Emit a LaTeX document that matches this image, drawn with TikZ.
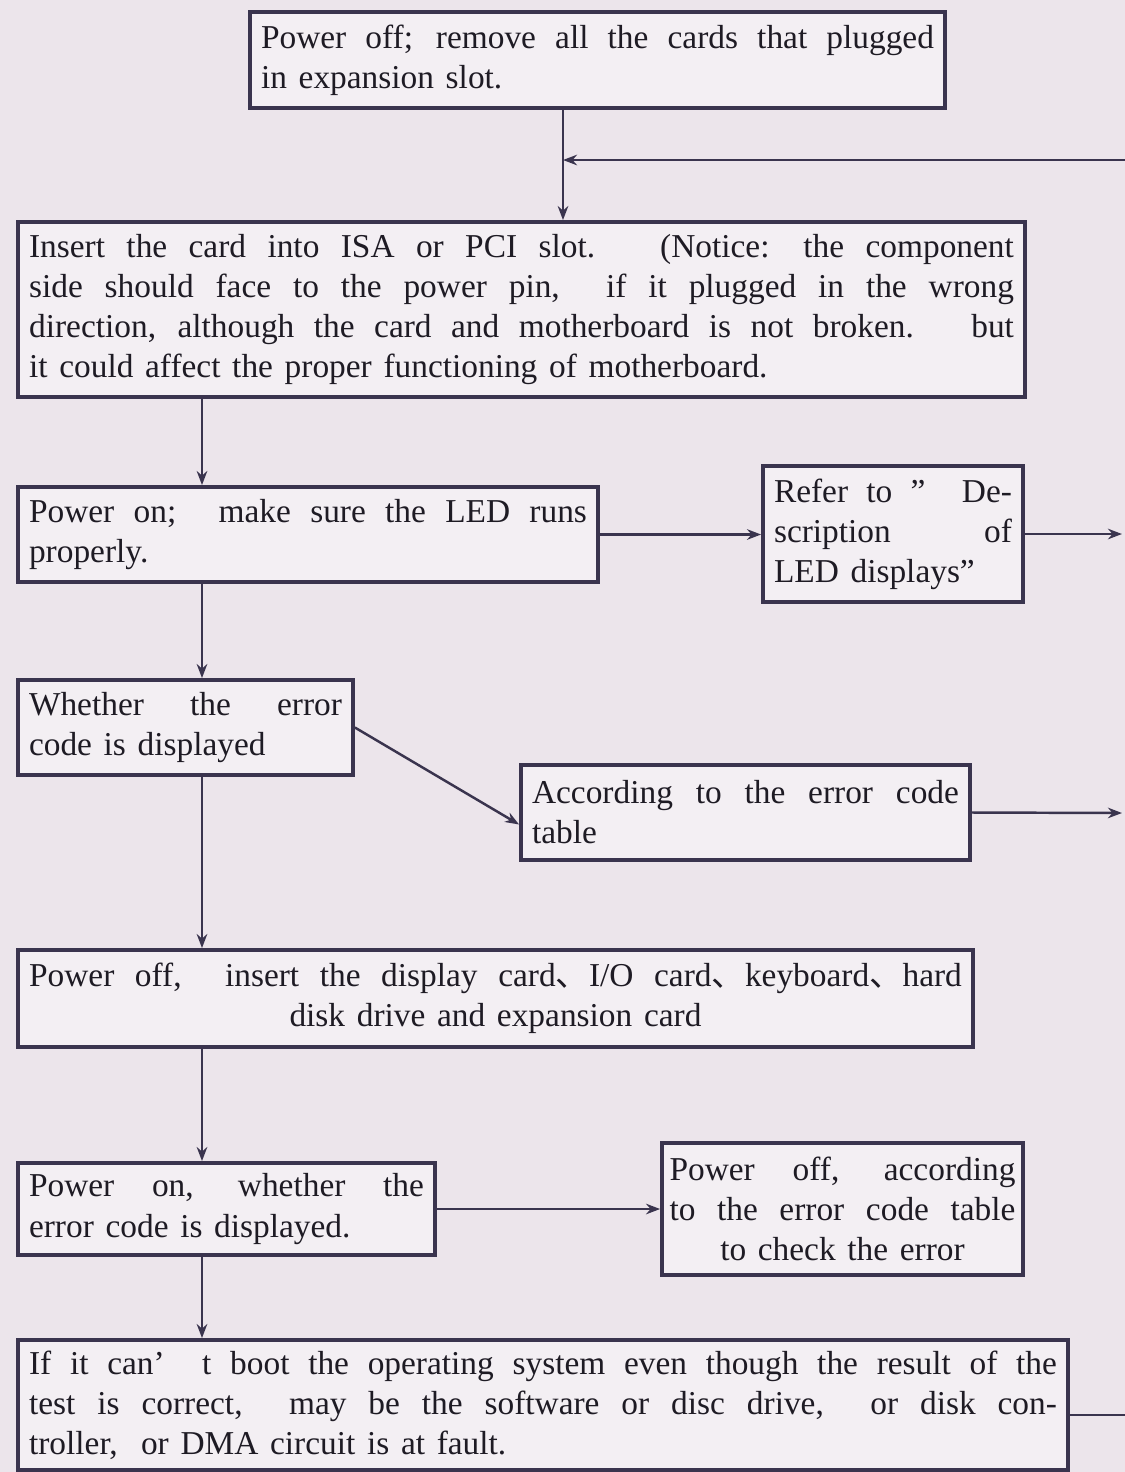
\documentclass[tikz,border=0pt]{standalone}
\usepackage{fontspec}
\setmainfont{Liberation Serif}[WordSpace=1.4]
\newfontfamily\cjk{Noto Sans CJK SC}
\usetikzlibrary{arrows.meta}
\definecolor{pagebg}{RGB}{236,229,235}
\definecolor{boxbg}{RGB}{243,239,243}
\definecolor{frame}{RGB}{58,52,78}
\definecolor{ink}{RGB}{30,27,36}
\tikzset{
  stepbox/.style={draw=frame, line width=2.2pt, fill=boxbg, text=ink,
    inner xsep=0.22cm, inner ysep=0pt, align=justify,
    font=\fontsize{19}{22.8}\selectfont},
  flow/.style={draw=frame, line width=1.4pt}
}

\begin{document}
\begin{tikzpicture}[x=0.02cm, y=-0.02cm, >={Stealth[length=8pt, width=6pt]}]
        % Page
        \fill[pagebg] (0,0) rectangle (1125,1472);
        \useasboundingbox (0,0) rectangle (1125,1472);

        % Coordinates
        \coordinate (back) at (1125, 160);
        \coordinate (jn) at (563, 160);
        \coordinate (trunk) at (202, 0);
        \coordinate (out1) at (1122, 534);
        \coordinate (out2) at (1122, 813);

        % Steps
        \node[stepbox, text width=13.46cm, minimum height=1.92cm] (remove) at (597.5, 60)
            {Power off; remove all the cards that plugged\linebreak in expansion slot.};
        \node[stepbox, text width=19.70cm, minimum height=3.5cm] (insert) at (521.5, 309.5)
            {Insert the card into ISA or PCI slot. \ (Notice: the component\linebreak
             side should face to the power pin, \ if it plugged in the wrong\linebreak
             direction, although the card and motherboard is not broken. \ but\linebreak
             it could affect the proper functioning of motherboard.};
        \node[stepbox, text width=11.16cm, minimum height=1.9cm] (ledon) at (308, 534.5)
            {Power on; \ make sure the LED runs\linebreak properly.};
        \node[stepbox, text width=4.76cm, minimum height=2.72cm] (refer) at (893, 534)
            {Refer to ” \ De-\linebreak scription of\linebreak LED displays”};
        \node[stepbox, text width=6.26cm, minimum height=1.9cm] (errshow) at (185.5, 727.5)
            {Whether the error\linebreak code is displayed};
        \node[stepbox, text width=8.54cm, minimum height=1.9cm] (errtable) at (745.5, 812.5)
            {According to the error code\linebreak table};
        \node[stepbox, text width=18.66cm, minimum height=1.94cm] (cards) at (495.5, 998.5)
            {{\parfillskip=0pt Power off, \ insert the display card{\cjk 、}I/O card{\cjk 、}keyboard{\cjk 、}hard\par}
             {\centering disk drive and expansion card\par}};
        \node[stepbox, text width=7.90cm, minimum height=1.84cm] (poweron) at (226.5, 1209)
            {Power on, whether the\linebreak error code is displayed.};
        \node[stepbox, inner xsep=0.15cm, text width=6.92cm, minimum height=2.64cm] (checkerr) at (842.5, 1209)
            {{\parfillskip=0pt Power off, according\linebreak to the error code table\par}
             {\centering to check the error\par}};
        \node[stepbox, text width=20.56cm, minimum height=2.6cm] (fault) at (543, 1405)
            {If it can' \ t boot the operating system even though the result of the\linebreak
             test is correct, \ may be the software or disc drive, \ or disk con-\linebreak
             troller, \ or DMA circuit is at fault.};

        % Main line
        \draw[flow, ->] (jn |- remove.south) -- (jn |- insert.north);
        \draw[flow, ->] (back) -- (jn);
        \draw[flow, ->] (trunk |- insert.south) -- (trunk |- ledon.north);
        \draw[flow, ->] (trunk |- ledon.south) -- (trunk |- errshow.north);
        \draw[flow, ->] (trunk |- errshow.south) -- (trunk |- cards.north);
        \draw[flow, ->] (trunk |- cards.south) -- (trunk |- poweron.north);
        \draw[flow, ->] (trunk |- poweron.south) -- (trunk |- fault.north);

        % Side branches
        \draw[flow, ->] (ledon.east) -- (ledon.east -| refer.west);
        \draw[flow, ->] (refer.east) -- (out1);
        \draw[flow, ->] (errshow.east) -- ([yshift=-0.24cm]errtable.west);
        \draw[flow, ->] (errtable.east) -- (out2);
        \draw[flow, ->] (poweron.east) -- (poweron.east -| checkerr.west);
        \draw[flow] ([yshift=-0.2cm]fault.east) -- ++(57, 0);
    \end{tikzpicture}
\end{document}
